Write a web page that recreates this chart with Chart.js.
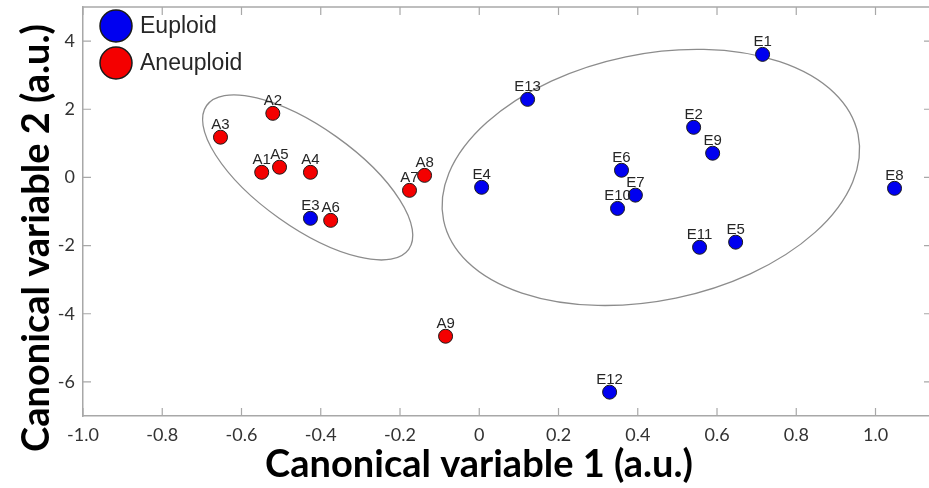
<!DOCTYPE html>
<html>
<head>
<meta charset="utf-8">
<title>Canonical variables: euploid vs aneuploid</title>
<script src="https://cdn.jsdelivr.net/npm/chart.js@4.4.1/dist/chart.umd.min.js"></script>
<style>
  html, body { margin: 0; padding: 0; background: #fff; }
  #wrap { width: 929px; height: 488px; }
</style>
</head>
<body>
<div id="wrap"><canvas id="chart"></canvas></div>
<script>
// ===== Data =====
const euploidNames = ['E1', 'E2', 'E3', 'E4', 'E5', 'E6', 'E7', 'E8', 'E9', 'E10', 'E11', 'E12', 'E13'];
const euploidX = [0.715, 0.541, -0.426, 0.006, 0.647, 0.359, 0.394, 1.048, 0.589, 0.349, 0.556, 0.329, 0.122];
const euploidY = [3.61, 1.47, -1.20, -0.29, -1.90, 0.21, -0.52, -0.32, 0.71, -0.91, -2.05, -6.30, 2.29];

const aneuploidNames = ['A1', 'A2', 'A3', 'A4', 'A5', 'A6', 'A7', 'A8', 'A9'];
const aneuploidX = [-0.549, -0.521, -0.653, -0.426, -0.504, -0.375, -0.176, -0.138, -0.085];
const aneuploidY = [0.15, 1.88, 1.18, 0.15, 0.30, -1.26, -0.38, 0.06, -4.66];

const xTicks = [-1.0, -0.8, -0.6, -0.4, -0.2, 0, 0.2, 0.4, 0.6, 0.8, 1.0];
const xTickLabels = ['-1.0', '-0.8', '-0.6', '-0.4', '-0.2', '0', '0.2', '0.4', '0.6', '0.8', '1.0'];
const yTicks = [-6, -4, -2, 0, 2, 4];
const yTickLabels = ['-6', '-4', '-2', '0', '2', '4'];

// group ellipses: centre and the ends of the two semi-axes, in data units
const ellipseCX = [-0.433, 0.433];
const ellipseCY = [0.0, 0.0];
const ellipseAX = [-0.178, 0.956];
const ellipseAY = [-2.11, 1.26];
const ellipseBX = [-0.506, 0.496];
const ellipseBY = [-1.19, -3.54];

const xTitle = 'Canonical variable 1 (a.u.)';
const yTitle = 'Canonical variable 2 (a.u.)';

const AXIS_COLOR = '#a8a8a8';
const TICK_FONT = 'Lato, "Liberation Sans", sans-serif';
const LABEL_FONT = '"Liberation Sans", Arial, sans-serif';

const toPoints = (xs, ys) => xs.map((x, i) => ({ x, y: ys[i] }));

// ===== Plugins =====
// ellipses + inward tick marks + top frame line, under the points
const framePlugin = {
  id: 'frame',
  beforeDatasetsDraw(chart) {
    const { ctx, chartArea: a, scales: { x, y } } = chart;
    ctx.save();
    // ellipses
    ellipseCX.forEach((cx, i) => {
      const c = { x: x.getPixelForValue(cx), y: y.getPixelForValue(ellipseCY[i]) };
      const u = { x: x.getPixelForValue(ellipseAX[i]) - c.x, y: y.getPixelForValue(ellipseAY[i]) - c.y };
      const v = { x: x.getPixelForValue(ellipseBX[i]) - c.x, y: y.getPixelForValue(ellipseBY[i]) - c.y };
      ctx.save();
      ctx.beginPath();
      ctx.transform(u.x, u.y, v.x, v.y, c.x, c.y);
      ctx.arc(0, 0, 1, 0, Math.PI * 2);
      ctx.restore();
      ctx.lineWidth = 1.3;
      ctx.strokeStyle = '#8c8c8c';
      ctx.stroke();
    });
    // top frame (right one falls just off the picture)
    ctx.strokeStyle = AXIS_COLOR;
    ctx.lineWidth = 1.5;
    ctx.beginPath();
    ctx.moveTo(a.left, a.top); ctx.lineTo(a.right, a.top);
    ctx.stroke();
    // inward ticks
    ctx.lineWidth = 1.2;
    ctx.beginPath();
    xTicks.forEach(t => {
      const px = x.getPixelForValue(t);
      ctx.moveTo(px, a.bottom); ctx.lineTo(px, a.bottom - 8);
      ctx.moveTo(px, a.top); ctx.lineTo(px, a.top + 8);
    });
    yTicks.forEach(t => {
      const py = y.getPixelForValue(t);
      ctx.moveTo(a.left, py); ctx.lineTo(a.left + 8, py);
      ctx.moveTo(a.right, py); ctx.lineTo(a.right - 5, py);
    });
    ctx.stroke();
    ctx.restore();
  }
};

// sample names above the points
const pointLabelPlugin = {
  id: 'pointLabels',
  afterDatasetsDraw(chart) {
    const { ctx } = chart;
    ctx.save();
    ctx.font = '15px ' + LABEL_FONT;
    ctx.fillStyle = '#262626';
    ctx.textAlign = 'center';
    ctx.textBaseline = 'alphabetic';
    chart.data.datasets.forEach((ds, di) => {
      const meta = chart.getDatasetMeta(di);
      meta.data.forEach((pt, i) => {
        ctx.fillText(ds.names[i], pt.x, pt.y - 8.5);
      });
    });
    ctx.restore();
  }
};

// legend with big markers, top-left inside the plot
const legendPlugin = {
  id: 'bigLegend',
  afterDraw(chart) {
    const { ctx, chartArea: a } = chart;
    ctx.save();
    ctx.font = '23px ' + LABEL_FONT;
    ctx.textBaseline = 'middle';
    ctx.textAlign = 'left';
    chart.data.datasets.forEach((ds, i) => {
      const cx = a.left + 33, cy = a.top + 19 + i * 37;
      ctx.beginPath();
      ctx.arc(cx, cy, 16, 0, Math.PI * 2);
      ctx.fillStyle = ds.backgroundColor;
      ctx.fill();
      ctx.lineWidth = 1.5;
      ctx.strokeStyle = '#1a1a1a';
      ctx.stroke();
      ctx.fillStyle = '#262626';
      ctx.fillText(ds.label, cx + 24, cy + 1);
    });
    ctx.restore();
  }
};

// axis titles (sit off-centre in the original, so drawn by hand)
const titlePlugin = {
  id: 'axisTitles',
  afterDraw(chart) {
    const { ctx } = chart;
    ctx.save();
    ctx.font = 'bold 38px ' + TICK_FONT;
    ctx.fillStyle = '#000';
    ctx.textAlign = 'center';
    ctx.textBaseline = 'alphabetic';
    ctx.fillText(xTitle, 479, 477);
    ctx.translate(49, 238);
    ctx.rotate(-Math.PI / 2);
    ctx.fillText(yTitle, 0, 0);
    ctx.restore();
  }
};

// ===== Chart =====
const ctx = document.getElementById('chart').getContext('2d');
new Chart(ctx, {
  type: 'scatter',
  data: {
    datasets: [
      {
        label: 'Euploid',
        names: euploidNames,
        data: toPoints(euploidX, euploidY),
        backgroundColor: '#0000f0',
        borderColor: '#1a1a1a',
        borderWidth: 1,
        pointRadius: 7,
        pointHoverRadius: 7
      },
      {
        label: 'Aneuploid',
        names: aneuploidNames,
        data: toPoints(aneuploidX, aneuploidY),
        backgroundColor: '#f40000',
        borderColor: '#1a1a1a',
        borderWidth: 1,
        pointRadius: 7,
        pointHoverRadius: 7
      }
    ]
  },
  options: {
    responsive: true,
    maintainAspectRatio: false,
    animation: false,
    layout: { autoPadding: false, padding: { top: 7, right: 0, left: 0, bottom: 0 } },
    plugins: {
      legend: { display: false },
      tooltip: { enabled: false },
      title: { display: false }
    },
    scales: {
      x: {
        type: 'linear',
        min: -1.0,
        max: 1.135,
        afterBuildTicks: s => { s.ticks = xTicks.map(v => ({ value: v })); },
        afterFit: s => { s.height = 72; s.paddingLeft = 0; s.paddingRight = 0; },
        grid: { display: false, drawTicks: false },
        border: { display: true, color: AXIS_COLOR, width: 1.5 },
        ticks: {
          padding: 8,
          maxRotation: 0,
          autoSkip: false,
          color: '#333',
          font: { family: TICK_FONT, size: 18 },
          callback: (v, i) => xTickLabels[i]
        }
      },
      y: {
        type: 'linear',
        min: -7,
        max: 5,
        afterBuildTicks: s => { s.ticks = yTicks.map(v => ({ value: v })); },
        afterFit: s => { s.width = 83; s.paddingTop = 0; s.paddingBottom = 0; },
        grid: { display: false, drawTicks: false },
        border: { display: true, color: AXIS_COLOR, width: 1.5 },
        ticks: {
          padding: 8,
          autoSkip: false,
          color: '#333',
          font: { family: TICK_FONT, size: 18 },
          callback: (v, i) => yTickLabels[i]
        }
      }
    }
  },
  plugins: [framePlugin, pointLabelPlugin, legendPlugin, titlePlugin]
});
</script>
</body>
</html>
